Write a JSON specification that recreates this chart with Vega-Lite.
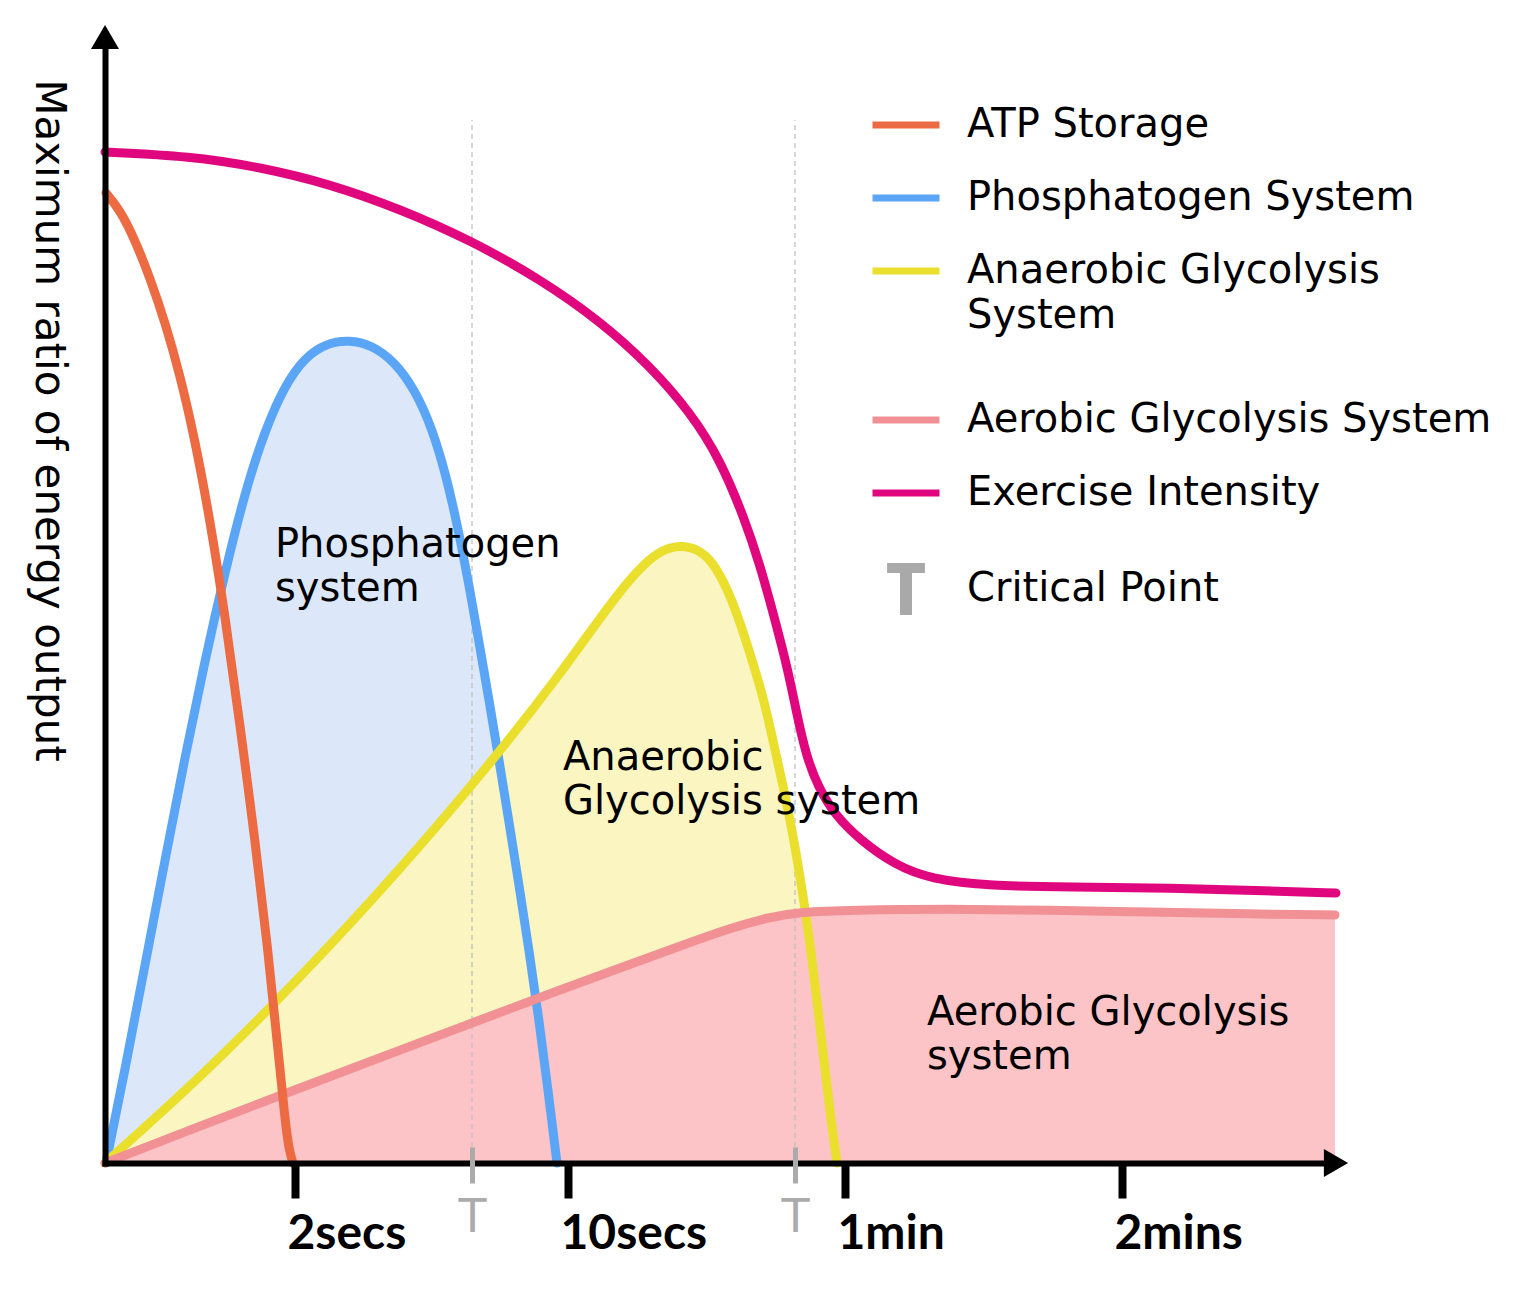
{
  "$schema": "https://vega.github.io/schema/vega-lite/v6.json",
  "width": 1225,
  "height": 1118,
  "autosize": "none",
  "padding": {"left": 105, "top": 45, "right": 206, "bottom": 142},
  "background": "white",
  "config": {"view": {"stroke": null}},
  "datasets": {
    "curves": [
      {"series": "Phosphatogen System", "x": 1, "y": 0},
      {"series": "Phosphatogen System", "x": 20, "y": 93},
      {"series": "Phosphatogen System", "x": 40, "y": 198},
      {"series": "Phosphatogen System", "x": 60, "y": 303},
      {"series": "Phosphatogen System", "x": 80, "y": 406},
      {"series": "Phosphatogen System", "x": 100, "y": 503},
      {"series": "Phosphatogen System", "x": 120, "y": 591},
      {"series": "Phosphatogen System", "x": 140, "y": 671},
      {"series": "Phosphatogen System", "x": 160, "y": 733},
      {"series": "Phosphatogen System", "x": 180, "y": 778},
      {"series": "Phosphatogen System", "x": 200, "y": 806},
      {"series": "Phosphatogen System", "x": 222, "y": 820},
      {"series": "Phosphatogen System", "x": 244, "y": 823},
      {"series": "Phosphatogen System", "x": 267, "y": 818},
      {"series": "Phosphatogen System", "x": 290, "y": 801},
      {"series": "Phosphatogen System", "x": 310, "y": 773},
      {"series": "Phosphatogen System", "x": 327, "y": 735},
      {"series": "Phosphatogen System", "x": 341, "y": 688},
      {"series": "Phosphatogen System", "x": 353, "y": 635},
      {"series": "Phosphatogen System", "x": 364, "y": 578},
      {"series": "Phosphatogen System", "x": 374, "y": 521},
      {"series": "Phosphatogen System", "x": 384, "y": 463},
      {"series": "Phosphatogen System", "x": 394, "y": 403},
      {"series": "Phosphatogen System", "x": 404, "y": 341},
      {"series": "Phosphatogen System", "x": 414, "y": 278},
      {"series": "Phosphatogen System", "x": 424, "y": 213},
      {"series": "Phosphatogen System", "x": 434, "y": 143},
      {"series": "Phosphatogen System", "x": 443, "y": 73},
      {"series": "Phosphatogen System", "x": 452, "y": 0},
      {"series": "Anaerobic Glycolysis System", "x": 0, "y": 0},
      {"series": "Anaerobic Glycolysis System", "x": 95, "y": 85},
      {"series": "Anaerobic Glycolysis System", "x": 195, "y": 185},
      {"series": "Anaerobic Glycolysis System", "x": 295, "y": 293},
      {"series": "Anaerobic Glycolysis System", "x": 395, "y": 411},
      {"series": "Anaerobic Glycolysis System", "x": 455, "y": 489},
      {"series": "Anaerobic Glycolysis System", "x": 495, "y": 545},
      {"series": "Anaerobic Glycolysis System", "x": 520, "y": 578},
      {"series": "Anaerobic Glycolysis System", "x": 540, "y": 600},
      {"series": "Anaerobic Glycolysis System", "x": 557, "y": 613},
      {"series": "Anaerobic Glycolysis System", "x": 575, "y": 618},
      {"series": "Anaerobic Glycolysis System", "x": 593, "y": 614},
      {"series": "Anaerobic Glycolysis System", "x": 608, "y": 601},
      {"series": "Anaerobic Glycolysis System", "x": 623, "y": 573},
      {"series": "Anaerobic Glycolysis System", "x": 636, "y": 538},
      {"series": "Anaerobic Glycolysis System", "x": 648, "y": 500},
      {"series": "Anaerobic Glycolysis System", "x": 659, "y": 463},
      {"series": "Anaerobic Glycolysis System", "x": 669, "y": 418},
      {"series": "Anaerobic Glycolysis System", "x": 679, "y": 373},
      {"series": "Anaerobic Glycolysis System", "x": 689, "y": 323},
      {"series": "Anaerobic Glycolysis System", "x": 698, "y": 268},
      {"series": "Anaerobic Glycolysis System", "x": 706, "y": 213},
      {"series": "Anaerobic Glycolysis System", "x": 713, "y": 153},
      {"series": "Anaerobic Glycolysis System", "x": 720, "y": 93},
      {"series": "Anaerobic Glycolysis System", "x": 726, "y": 43},
      {"series": "Anaerobic Glycolysis System", "x": 732, "y": 0},
      {"series": "Aerobic Glycolysis System", "x": 0, "y": 0},
      {"series": "Aerobic Glycolysis System", "x": 95, "y": 37},
      {"series": "Aerobic Glycolysis System", "x": 195, "y": 75},
      {"series": "Aerobic Glycolysis System", "x": 295, "y": 113},
      {"series": "Aerobic Glycolysis System", "x": 375, "y": 143},
      {"series": "Aerobic Glycolysis System", "x": 455, "y": 173},
      {"series": "Aerobic Glycolysis System", "x": 515, "y": 195},
      {"series": "Aerobic Glycolysis System", "x": 575, "y": 217},
      {"series": "Aerobic Glycolysis System", "x": 625, "y": 235},
      {"series": "Aerobic Glycolysis System", "x": 665, "y": 246},
      {"series": "Aerobic Glycolysis System", "x": 695, "y": 251},
      {"series": "Aerobic Glycolysis System", "x": 745, "y": 253},
      {"series": "Aerobic Glycolysis System", "x": 845, "y": 254},
      {"series": "Aerobic Glycolysis System", "x": 945, "y": 253},
      {"series": "Aerobic Glycolysis System", "x": 1045, "y": 251},
      {"series": "Aerobic Glycolysis System", "x": 1145, "y": 249},
      {"series": "Aerobic Glycolysis System", "x": 1230, "y": 248},
      {"series": "ATP Storage", "x": 1, "y": 970},
      {"series": "ATP Storage", "x": 15, "y": 953},
      {"series": "ATP Storage", "x": 30, "y": 923},
      {"series": "ATP Storage", "x": 45, "y": 885},
      {"series": "ATP Storage", "x": 60, "y": 841},
      {"series": "ATP Storage", "x": 75, "y": 788},
      {"series": "ATP Storage", "x": 90, "y": 723},
      {"series": "ATP Storage", "x": 105, "y": 643},
      {"series": "ATP Storage", "x": 120, "y": 548},
      {"series": "ATP Storage", "x": 135, "y": 438},
      {"series": "ATP Storage", "x": 150, "y": 323},
      {"series": "ATP Storage", "x": 163, "y": 213},
      {"series": "ATP Storage", "x": 173, "y": 113},
      {"series": "ATP Storage", "x": 180, "y": 43},
      {"series": "ATP Storage", "x": 184, "y": 13},
      {"series": "ATP Storage", "x": 188, "y": 0},
      {"series": "Exercise Intensity", "x": 0, "y": 1011},
      {"series": "Exercise Intensity", "x": 85, "y": 1007},
      {"series": "Exercise Intensity", "x": 155, "y": 996},
      {"series": "Exercise Intensity", "x": 225, "y": 979},
      {"series": "Exercise Intensity", "x": 295, "y": 954},
      {"series": "Exercise Intensity", "x": 365, "y": 923},
      {"series": "Exercise Intensity", "x": 435, "y": 884},
      {"series": "Exercise Intensity", "x": 495, "y": 842},
      {"series": "Exercise Intensity", "x": 545, "y": 797},
      {"series": "Exercise Intensity", "x": 585, "y": 751},
      {"series": "Exercise Intensity", "x": 615, "y": 704},
      {"series": "Exercise Intensity", "x": 640, "y": 643},
      {"series": "Exercise Intensity", "x": 655, "y": 598},
      {"series": "Exercise Intensity", "x": 670, "y": 543},
      {"series": "Exercise Intensity", "x": 683, "y": 493},
      {"series": "Exercise Intensity", "x": 692, "y": 448},
      {"series": "Exercise Intensity", "x": 701, "y": 408},
      {"series": "Exercise Intensity", "x": 713, "y": 376},
      {"series": "Exercise Intensity", "x": 730, "y": 348},
      {"series": "Exercise Intensity", "x": 755, "y": 323},
      {"series": "Exercise Intensity", "x": 790, "y": 298},
      {"series": "Exercise Intensity", "x": 825, "y": 284},
      {"series": "Exercise Intensity", "x": 885, "y": 277},
      {"series": "Exercise Intensity", "x": 965, "y": 276},
      {"series": "Exercise Intensity", "x": 1065, "y": 275},
      {"series": "Exercise Intensity", "x": 1165, "y": 272},
      {"series": "Exercise Intensity", "x": 1231, "y": 270}
    ],
    "notes": [
      {"text": ["Phosphatogen", "system"], "x": 170, "y": 638},
      {"text": ["Anaerobic", "Glycolysis system"], "x": 458, "y": 425},
      {"text": ["Aerobic Glycolysis", "system"], "x": 822, "y": 170}
    ],
    "critical": [
      {"point": "T1", "x": 367},
      {"point": "T2", "x": 690}
    ]
  },
  "resolve": {"axis": {"x": "independent", "y": "independent"}},
  "layer": [
    {
      "data": {"name": "curves"},
      "transform": [{"filter": {"field": "series", "oneOf": ["Phosphatogen System", "Anaerobic Glycolysis System", "Aerobic Glycolysis System"]}}],
      "mark": {"type": "area", "interpolate": "basis", "opacity": 1},
      "encoding": {
        "x": {"field": "x", "type": "quantitative", "scale": {"domain": [0, 1225], "nice": false},
          "axis": {"orient": "bottom", "values": [190, 463, 740, 1017],
            "labelExpr": "datum.value == 190 ? '2secs' : datum.value == 463 ? '10secs' : datum.value == 740 ? '1min' : '2mins'",
            "domainColor": "black", "domainWidth": 6, "domainCap": "square", "tickColor": "black", "tickWidth": 8, "tickSize": 35,
            "labelFont": "Lato", "labelFontSize": 48, "labelFontWeight": "bold", "labelColor": "black", "labelLimit": 1000,
            "labelAlign": "left", "labelOffset": -8, "labelPadding": 12, "labelBaseline": "top", "grid": false, "title": null, "labelFlush": false, "labelOverlap": false, "zindex": 1}},
        "y": {"field": "y", "type": "quantitative", "scale": {"domain": [0, 1118], "nice": false},
          "axis": {"orient": "left", "domainColor": "black", "domainWidth": 6, "domainCap": "square", "ticks": false, "labels": false, "grid": false,
            "title": "Maximum ratio of energy output", "titleFont": "DejaVu Sans", "titleFontSize": 42, "titleFontWeight": "normal", "titleColor": "black",
            "titleAngle": 90, "titleX": -57, "titleY": 375, "titleAlign": "center", "titleBaseline": "middle", "zindex": 1}},
        "y2": {"datum": 0},
        "fill": {"field": "series", "type": "nominal", "legend": null,
          "scale": {"domain": ["Phosphatogen System", "Anaerobic Glycolysis System", "Aerobic Glycolysis System"], "range": ["#DCE8FA", "#FAF5C1", "#FCC4C7"]}}
      }
    },
    {
      "data": {"name": "critical"},
      "mark": {"type": "rule", "color": "#BDBDBD", "strokeWidth": 1.2, "strokeDash": [5, 4]},
      "encoding": {
        "x": {"field": "x", "type": "quantitative", "scale": {"domain": [0, 1225], "nice": false},
          "axis": {"orient": "bottom", "values": [367, 690], "labelExpr": "'T'", "domain": false, "ticks": true, "tickColor": "#ABABAB", "tickWidth": 5, "tickSize": 36, "offset": -16,
            "labelFont": "DejaVu Sans", "labelFontSize": 46, "labelFontWeight": "normal", "labelColor": "#ABABAB", "labelPadding": 12, "labelBaseline": "top", "labelAlign": "center",
            "grid": false, "title": null, "labelFlush": false, "labelOverlap": false, "zindex": 2}},
        "y": {"datum": 16, "type": "quantitative", "scale": {"domain": [0, 1118], "nice": false}, "axis": null},
        "y2": {"datum": 1043}
      }
    },
    {
      "data": {"name": "curves"},
      "mark": {"type": "line", "interpolate": "basis", "strokeWidth": 9, "strokeCap": "round", "strokeJoin": "round"},
      "encoding": {
        "x": {"field": "x", "type": "quantitative", "scale": {"domain": [0, 1225], "nice": false}, "axis": null},
        "y": {"field": "y", "type": "quantitative", "scale": {"domain": [0, 1118], "nice": false}, "axis": null},
        "stroke": {"field": "series", "type": "nominal",
          "scale": {"domain": ["ATP Storage", "Phosphatogen System", "Anaerobic Glycolysis System", "Aerobic Glycolysis System", "Exercise Intensity", "Critical Point"],
                    "range": ["#EC6B42", "#5BA5F7", "#EADF2D", "#F29195", "#E0077E", "#A9A9A9"]},
          "legend": {"orient": "none", "legendX": 764, "legendY": 43, "title": null, "direction": "vertical",
            "symbolType": "stroke", "symbolSize": 4489, "symbolStrokeWidth": 7, "symbolOpacity": 1,
            "labelFont": "DejaVu Sans", "labelFontSize": 40, "labelColor": "black", "labelOffset": 24, "labelLimit": 1000,
            "rowPadding": 16, "padding": 0, "offset": 0,
            "labelExpr": "datum.label == 'Anaerobic Glycolysis System' ? ['Anaerobic Glycolysis', 'System'] : datum.label",
            "encode": {
              "symbols": {"update": {
                "shape": {"signal": "datum.value === 'Critical Point' ? 'M-0.46,-0.67L0.46,-0.67L0.46,-0.58L0.075,-0.58L0.075,0.67L-0.075,0.67L-0.075,-0.58L-0.46,-0.58Z' : datum.value === 'Anaerobic Glycolysis System' ? 'M-1,0L1,0M0,2.43' : datum.value === 'Exercise Intensity' ? 'M-1,0L1,0M0,0.85' : 'M-1,0L1,0'"},
                "fill": {"signal": "datum.value === 'Critical Point' ? '#A9A9A9' : 'transparent'"}}},
              "labels": {"update": {
                "lineHeight": {"value": 45}}}
            }}}
      }
    },
    {
      "data": {"name": "notes"},
      "mark": {"type": "text", "align": "left", "baseline": "top", "font": "DejaVu Sans", "fontSize": 40, "lineHeight": 44, "color": "black"},
      "encoding": {
        "x": {"field": "x", "type": "quantitative", "scale": {"domain": [0, 1225], "nice": false}, "axis": null},
        "y": {"field": "y", "type": "quantitative", "scale": {"domain": [0, 1118], "nice": false}, "axis": null},
        "text": {"field": "text"}
      }
    },
    {
      "data": {"values": [{}]},
      "mark": {"type": "point", "shape": "triangle-up", "filled": true, "color": "black", "size": 784, "opacity": 1},
      "encoding": {
        "x": {"datum": 0, "type": "quantitative", "scale": {"domain": [0, 1225], "nice": false}, "axis": null},
        "y": {"datum": 1126, "type": "quantitative", "scale": {"domain": [0, 1118], "nice": false}, "axis": null}
      }
    },
    {
      "data": {"values": [{}]},
      "mark": {"type": "point", "shape": "triangle-right", "filled": true, "color": "black", "size": 784, "opacity": 1},
      "encoding": {
        "x": {"datum": 1231, "type": "quantitative", "scale": {"domain": [0, 1225], "nice": false}, "axis": null},
        "y": {"datum": 0, "type": "quantitative", "scale": {"domain": [0, 1118], "nice": false}, "axis": null}
      }
    }
  ]
}
